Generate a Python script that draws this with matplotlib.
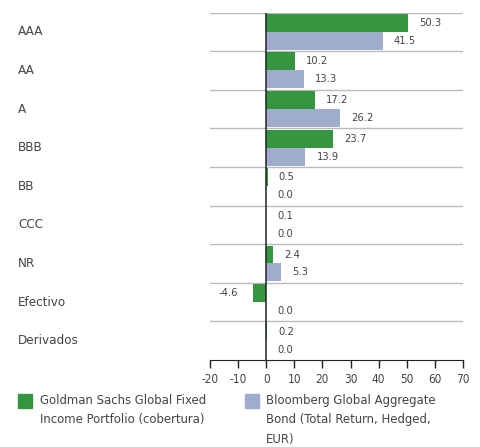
import numpy as np
import matplotlib
matplotlib.use("Agg")
import matplotlib.pyplot as plt

plt.rcParams['font.family'] = ['DejaVu Sans']
plt.rcParams['font.stretch'] = 'condensed'

# --- data ---
categories = ["AAA", "AA", "A", "BBB", "BB", "CCC", "NR", "Efectivo", "Derivados"]
fund = [50.3, 10.2, 17.2, 23.7, 0.5, 0.1, 2.4, -4.6, 0.2]
bench = [41.5, 13.3, 26.2, 13.9, 0.0, 0.0, 5.3, 0.0, 0.0]
fund_name = "Goldman Sachs Global Fixed\nIncome Portfolio (cobertura)"
bench_name = "Bloomberg Global Aggregate\nBond (Total Return, Hedged,\nEUR)"
xticks = [-20, -10, 0, 10, 20, 30, 40, 50, 60, 70]

green = "#35963f"
blue = "#a0accb"
text_col = "#444444"

fig = plt.figure(figsize=(4.8, 4.47), dpi=100)
ax = fig.add_axes([0.4375, 0.1946, 0.527, 0.7774])

n = len(categories)
y = np.arange(n)
h = 0.465
ax.barh(y - h / 2, fund, height=h, color=green, zorder=2)
ax.barh(y + h / 2, bench, height=h, color=blue, zorder=2)

# value labels
for yi, v in zip(y - h / 2, fund):
    if v < 0:
        ax.annotate(f"{v:.1f}", (v, yi), xytext=(-11, 0), textcoords="offset points",
                    ha="right", va="center", fontsize=8, color=text_col)
    else:
        ax.annotate(f"{v:.1f}", (v, yi), xytext=(8, 0), textcoords="offset points",
                    ha="left", va="center", fontsize=8, color=text_col)
for yi, v in zip(y + h / 2, bench):
    ax.annotate(f"{v:.1f}", (max(v, 0), yi), xytext=(8, 0), textcoords="offset points",
                ha="left", va="center", fontsize=8, color=text_col)

ax.set_xlim(-20, 70)
ax.set_ylim(n - 0.5, -0.5)
ax.set_xticks(xticks)
ax.set_xticklabels([str(t) for t in xticks], fontsize=8.5, color=text_col)
ax.tick_params(axis="x", length=6, width=1, color="#222222", pad=3)
ax.set_yticks([])

for b in np.arange(n) - 0.5:
    ax.axhline(b, color="#bbbbbb", lw=1, zorder=1)
ax.axvline(0, color="#222222", lw=1.1, zorder=3)

for s in ["top", "right", "left"]:
    ax.spines[s].set_visible(False)
ax.spines["bottom"].set_color("#222222")

# category labels at the far left
for yi, c in zip(y, categories):
    ax.annotate(c, xy=(18 / 480, yi), xycoords=("figure fraction", "data"),
                ha="left", va="center", fontsize=9.6, color=text_col)

# legend drawn by hand
fig.patches.append(plt.Rectangle((18 / 480, 1 - 408 / 447), 14 / 480, 14 / 447,
                                 transform=fig.transFigure, color=green))
fig.text(40 / 480, 1 - 394 / 447, fund_name, ha="left", va="top", fontsize=9.4,
         color=text_col, linespacing=1.65)
fig.patches.append(plt.Rectangle((245 / 480, 1 - 408 / 447), 14 / 480, 14 / 447,
                                 transform=fig.transFigure, color=blue))
fig.text(266 / 480, 1 - 394 / 447, bench_name, ha="left", va="top", fontsize=9.4,
         color=text_col, linespacing=1.65)

fig.savefig("out.png", dpi=100)
